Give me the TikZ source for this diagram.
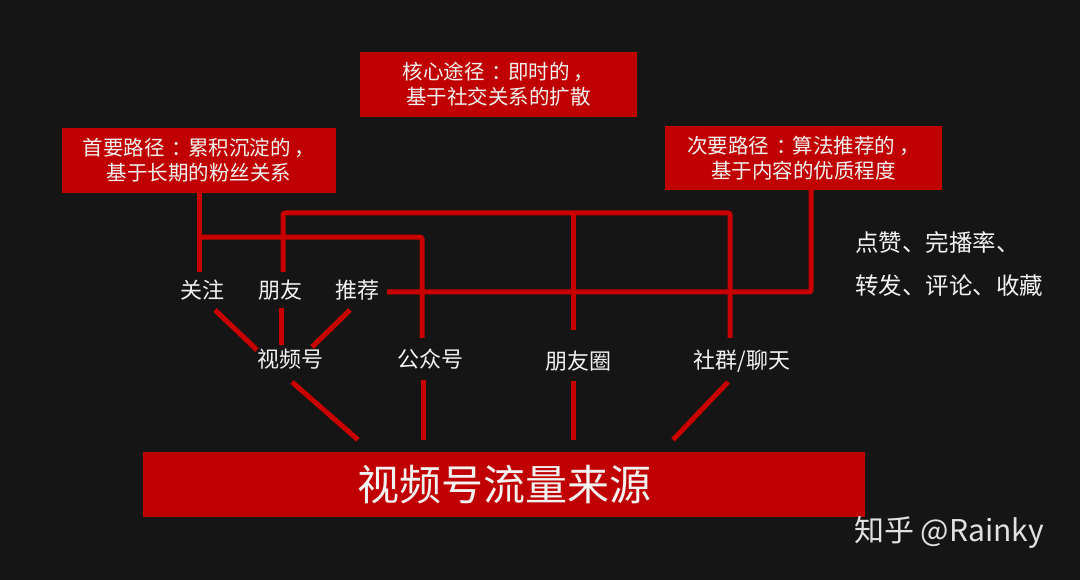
\documentclass[tikz,border=0pt]{standalone}
\usepackage{fontspec}
\setmainfont{Noto Sans CJK SC}
\usetikzlibrary{calc}
\definecolor{bgc}{HTML}{151515}
\definecolor{redbox}{HTML}{C00000}
\definecolor{redline}{HTML}{C80000}
\definecolor{txt}{HTML}{F2F2F2}
\newcommand{\pk}{\hspace{0.2em}}
\newcommand{\colonc}{\hspace{0.35em}：\hspace{-0.2em}}
\begin{document}
\begin{tikzpicture}[x=1pt,y=-1pt,
  lbl/.style={text=txt, font=\fontsize{22}{26}\selectfont, inner sep=0pt, text height=18.5pt, text depth=1.8pt},
  redbox/.style={fill=redbox, text=txt, align=center, inner sep=0pt, minimum height=65pt, font=\fontsize{20.5}{25}\selectfont},
  link/.style={draw=redline, line width=5pt, rounded corners=2pt}
]
\fill[bgc] (0,0) rectangle (1080,580);
\useasboundingbox (0,0) rectangle (1080,580);

% boxes
\node[redbox, minimum width=274pt] (boxA) at (199,160.5) {首要路径\colonc 累积沉淀的\pk，\\基于长期的粉丝关系};
\node[redbox, minimum width=277pt] (boxB) at (498.5,84.5) {核心途径\colonc 即时的\pk，\\基于社交关系的扩散};
\node[redbox, minimum width=277pt, minimum height=64pt] (boxC) at (803.5,158) {次要路径\colonc 算法推荐的\pk，\\基于内容的优质程度};
\node[redbox, minimum width=722pt, font=\fontsize{42}{46}\selectfont] (main) at (504,484.5) {视频号流量来源};

% labels
\node[lbl] (gz) at (202,290) {关注};
\node[lbl] (py) at (280,290) {朋友};
\node[lbl] (tj) at (357,290) {推荐};
\node[lbl] (sph) at (290,359) {视频号};
\node[lbl] (gzh) at (430,359) {公众号};
\node[lbl] (pyq) at (578,361) {朋友圈};
\node[lbl] (sq) at (742,360) {社群/聊天};
\node[text=txt, anchor=west, align=left, inner sep=0pt, font=\fontsize{23.5}{43}\selectfont] (metrics) at (855,263.5) {点赞、完播率、\\转发、评论、收藏};
\node[text=txt!85!gray, font=\fontsize{30}{32}\selectfont, inner sep=0pt] (wm) at (949,532) {知乎 @Rainky};

% coordinates
\coordinate (jA) at ($(boxA.south)+(0,44)$);
\coordinate (barL) at ($(py)+(3,-77)$);
\coordinate (pyqTop) at ($(pyq)+(-5,-31)$);

% upper connectors
\draw[link] (boxA.south) -- ($(gz)+(-3,-18)$);
\draw[link] (jA) -| ($(gzh)+(-8,-21)$);
\draw[link] ($(py)+(3,-18)$) -- (barL) -| ($(sq)+(-12,-22)$);
\draw[link] (pyqTop) -- (pyqTop |- barL);
\draw[link] ($(tj)+(30,2)$) -| ($(boxC.south)+(7.5,0)$);

% to 视频号
\draw[link] ($(gz)+(13,20)$) -- ($(sph)+(-33,-9)$);
\draw[link] ($(py)+(1,18)$) -- ($(sph)+(-9,-14)$);
\draw[link] ($(tj)+(-7,20)$) -- ($(sph)+(22,-12)$);

% to main
\draw[link] ($(sph)+(2,23)$) -- ($(main.north)+(-146,-12)$);
\draw[link] ($(gzh)+(-7,21)$) -- ($(main.north)+(-81,-12)$);
\draw[link] ($(pyq)+(-5,20)$) -- ($(main.north)+(69,-12)$);
\draw[link] ($(sq)+(-14,22)$) -- ($(main.north)+(169,-12)$);
\end{tikzpicture}
\end{document}
